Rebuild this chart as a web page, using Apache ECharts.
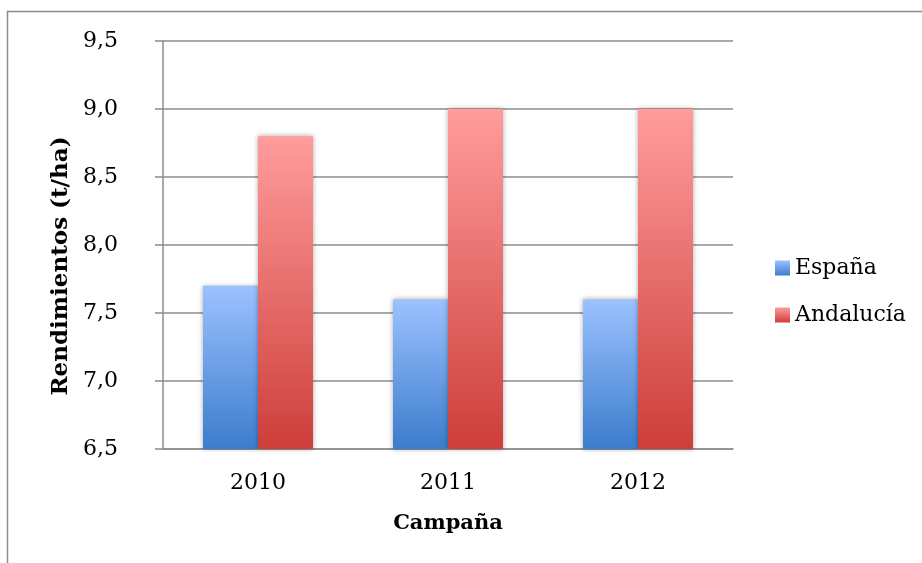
<!DOCTYPE html>
<html>
<head>
<meta charset="utf-8">
<script src="https://cdn.jsdelivr.net/npm/echarts@6/dist/echarts.min.js"></script>
<style>
  html, body { margin: 0; padding: 0; background: #fff; }
  #chart { width: 922px; height: 563px; }
</style>
</head>
<body>
<div id="chart"></div>
<script>
// Rendimientos por campaña (t/ha)
const campaigns = ['2010', '2011', '2012'];
const espana = [7.7, 7.6, 7.6];
const andalucia = [8.8, 9.0, 9.0];
const yMin = 6.5, yMax = 9.5, yStep = 0.5;

const FONT = 'DejaVu Serif';
const grey = '#8c8c8c';

function vgrad(top, bottom) {
  return new echarts.graphic.LinearGradient(0, 0, 0, 1, [
    { offset: 0, color: top },
    { offset: 1, color: bottom }
  ]);
}

const chart = echarts.init(document.getElementById('chart'), null, { renderer: 'canvas' });

chart.setOption({
  animation: false,
  backgroundColor: '#fff',
  graphic: [{
    type: 'rect',
    shape: { x: 7.5, y: 11.5, width: 1000, height: 700 },
    style: { fill: 'none', stroke: grey, lineWidth: 1.5 },
    silent: true,
    z: -1
  }],
  grid: { left: 163, right: 189, top: 41, bottom: 114, containLabel: false },
  legend: {
    orient: 'vertical',
    left: 770,
    top: 252,
    itemWidth: 15,
    itemHeight: 15,
    itemGap: 25,
    icon: 'rect',
    textStyle: { fontFamily: FONT, fontSize: 22, color: '#000', lineHeight: 22 },
    data: ['España', 'Andalucía']
  },
  xAxis: {
    type: 'category',
    data: campaigns,
    name: 'Campaña',
    nameLocation: 'middle',
    nameGap: 64,
    nameTextStyle: { fontFamily: FONT, fontSize: 21, fontWeight: 'bold', color: '#000' },
    axisLine: { show: true, lineStyle: { color: grey, width: 1.5 } },
    axisTick: { show: false },
    axisLabel: { fontFamily: FONT, fontSize: 22, color: '#000', margin: 23 }
  },
  yAxis: {
    type: 'value',
    min: yMin,
    max: yMax,
    interval: yStep,
    name: 'Rendimientos (t/ha)',
    nameLocation: 'middle',
    nameGap: 84,
    nameTextStyle: {
      fontFamily: FONT, fontSize: 23, fontWeight: 'bold', color: '#000',
      padding: [0, 42, 0, 0]
    },
    axisLine: { show: true, lineStyle: { color: grey, width: 1.5 } },
    axisTick: { show: true, length: 8, lineStyle: { color: grey, width: 1.5 } },
    splitLine: { show: true, lineStyle: { color: grey, width: 1.5 } },
    axisLabel: {
      fontFamily: FONT, fontSize: 22, color: '#000', margin: 45,
      formatter: v => v.toFixed(1).replace('.', ',')
    }
  },
  series: [
    {
      name: 'España',
      type: 'bar',
      data: espana,
      barWidth: 55,
      barGap: '0%',
      itemStyle: {
        color: vgrad('#9cc2ff', '#3b7ccc'),
        shadowBlur: 5,
        shadowColor: 'rgba(0,0,0,0.35)'
      }
    },
    {
      name: 'Andalucía',
      type: 'bar',
      data: andalucia,
      barWidth: 55,
      barGap: '0%',
      itemStyle: {
        color: vgrad('#ff9c9c', '#cd3e3a'),
        shadowBlur: 5,
        shadowColor: 'rgba(0,0,0,0.35)'
      }
    }
  ]
});
</script>
</body>
</html>
